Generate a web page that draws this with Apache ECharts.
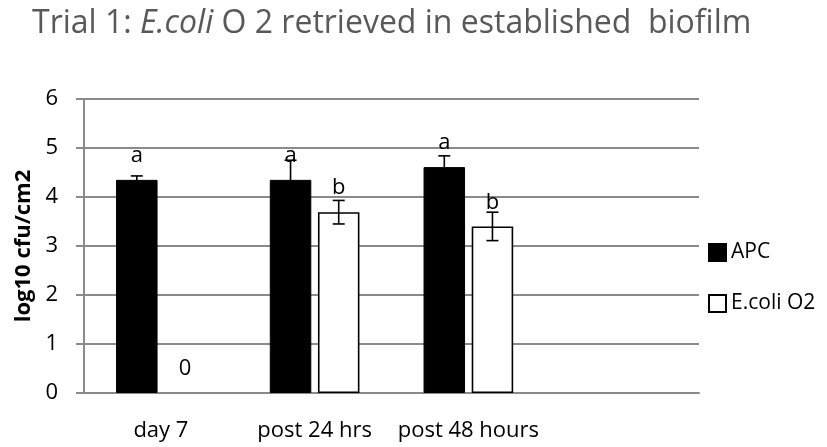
<!DOCTYPE html>
<html>
<head>
<meta charset="utf-8">
<script src="https://cdn.jsdelivr.net/npm/echarts@6/dist/echarts.min.js"></script>
<style>
html,body{margin:0;padding:0;background:#fff;}
#chart{width:827px;height:447px;}
</style>
</head>
<body>
<div id="chart"></div>
<script>
var categories = ['day 7', 'post 24 hrs', 'post 48 hours', ''];
var apcValues = [4.35, 4.35, 4.61];
var apcErrors = [0.08, 0.40, 0.23];
var apcLetters = ['a', 'a', 'a'];
var ecoliValues = [0, 3.69, 3.40];
var ecoliErrors = [0, 0.24, 0.29];
var ecoliLetters = ['0', 'b', 'b'];
var yTicks = [0, 1, 2, 3, 4, 5, 6];

var FONT = 'Open Sans';
var BAR_W = 0.27;   // fraction of category band
var BAR_GAP = 0.16; // fraction of bar width

var chart = echarts.init(document.getElementById('chart'), null, {renderer: 'canvas'});

function errItem(offsetSign) {
  return function (params, api) {
    var i = api.value(0);
    var v = api.value(1);
    var e = api.value(2);
    if (!e) return null;
    var band = api.size([1, 0])[0];
    var bw = band * BAR_W;
    var gap = bw * BAR_GAP;
    var group = bw * 2 + gap;
    var c = api.coord([i, v]);
    var x = c[0] + offsetSign * (group / 2 - bw / 2);
    var top = api.coord([i, v + e])[1];
    var bot = api.coord([i, v - e])[1];
    var cap = 6;
    var style = {stroke: '#000', lineWidth: 1.6};
    return {
      type: 'group',
      children: [
        {type: 'line', shape: {x1: x, y1: top, x2: x, y2: bot}, style: style},
        {type: 'line', shape: {x1: x - cap, y1: top, x2: x + cap, y2: top}, style: style},
        {type: 'line', shape: {x1: x - cap, y1: bot, x2: x + cap, y2: bot}, style: style}
      ]
    };
  };
}

var gridColor = '#8a8a8a';

var option = {
  animation: false,
  backgroundColor: '#fff',
  textStyle: {fontFamily: FONT},
  title: {
    left: 27,
    top: 3,
    text: '{n|Trial 1: }{i|E.coli}{n| O 2 retrieved in established  biofilm}',
    textStyle: {
      fontWeight: 'normal',
      rich: {
        n: {fontFamily: FONT, fontSize: 32, fontWeight: 'normal', color: '#595959'},
        i: {fontFamily: FONT, fontSize: 32, fontWeight: 'normal', color: '#595959', fontStyle: 'italic'}
      }
    }
  },
  legend: {
    orient: 'vertical',
    left: 703,
    top: 237,
    itemWidth: 17,
    itemHeight: 17,
    itemGap: 30,
    icon: 'rect',
    data: ['APC', 'E.coli O2'],
    textStyle: {fontFamily: FONT, fontSize: 21, color: '#000'}
  },
  grid: {left: 84, right: 128, top: 99, bottom: 54},
  xAxis: {
    type: 'category',
    data: categories,
    axisLine: {lineStyle: {color: gridColor, width: 2}},
    axisTick: {show: false},
    axisLabel: {fontFamily: FONT, fontSize: 22, color: '#000', margin: 27, interval: 0}
  },
  yAxis: {
    type: 'value',
    min: yTicks[0],
    max: yTicks[yTicks.length - 1],
    interval: 1,
    name: 'log10 cfu/cm2',
    nameLocation: 'middle',
    nameGap: 46,
    nameTextStyle: {fontFamily: FONT, fontSize: 22, fontWeight: 'bold', color: '#000'},
    axisLine: {show: true, lineStyle: {color: gridColor, width: 2}},
    axisTick: {show: true, length: 8, lineStyle: {color: gridColor, width: 2}},
    splitLine: {lineStyle: {color: gridColor, width: 2}},
    axisLabel: {fontFamily: FONT, fontSize: 22, color: '#000', margin: 26}
  },
  series: [
    {
      name: 'APC',
      type: 'bar',
      barWidth: (BAR_W * 100) + '%',
      barGap: (BAR_GAP * 100) + '%',
      itemStyle: {color: '#000', borderColor: '#000', borderWidth: 1},
      label: {
        show: true, position: 'top', distance: 13,
        fontFamily: FONT, fontSize: 22, color: '#000',
        formatter: function (p) { return apcLetters[p.dataIndex]; }
      },
      data: apcValues
    },
    {
      name: 'E.coli O2',
      type: 'bar',
      barWidth: (BAR_W * 100) + '%',
      barGap: (BAR_GAP * 100) + '%',
      itemStyle: {color: '#fff', borderColor: '#000', borderWidth: 1.6},
      label: {
        show: true, position: 'top', distance: 13,
        fontFamily: FONT, fontSize: 22, color: '#000',
        formatter: function (p) { return ecoliLetters[p.dataIndex]; }
      },
      data: ecoliValues.map(function (v) {
        return v === 0 ? {value: v, itemStyle: {borderWidth: 0}} : v;
      })
    },
    {
      name: 'APC err',
      type: 'custom',
      z: 5,
      renderItem: errItem(-1),
      data: apcValues.map(function (v, i) { return [i, v, apcErrors[i]]; })
    },
    {
      name: 'E.coli err',
      type: 'custom',
      z: 5,
      renderItem: errItem(1),
      data: ecoliValues.map(function (v, i) { return [i, v, ecoliErrors[i]]; })
    }
  ]
};
chart.setOption(option);
</script>
</body>
</html>
